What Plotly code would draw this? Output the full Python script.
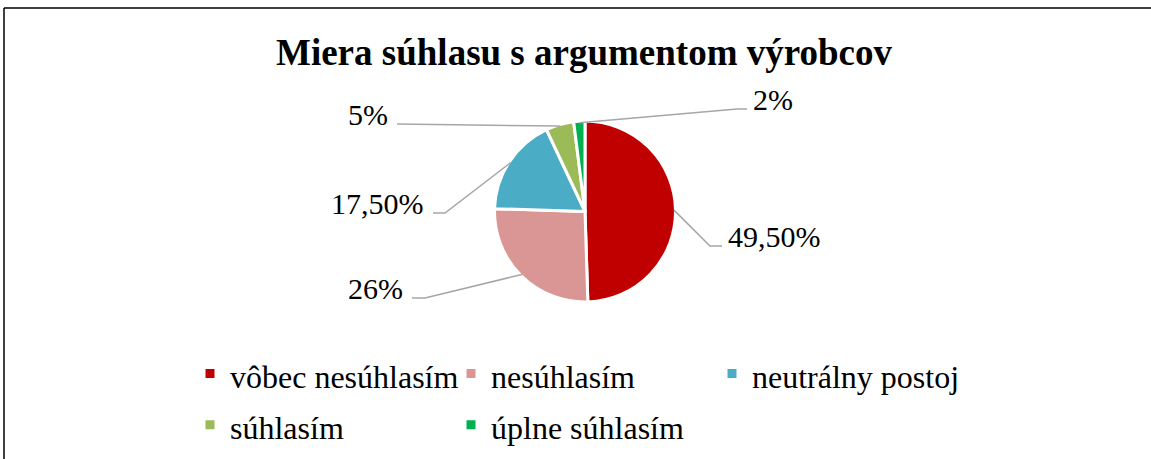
import math
import plotly.graph_objects as go

# ---- data ----
categories = ["vôbec nesúhlasím", "nesúhlasím", "neutrálny postoj", "súhlasím", "úplne súhlasím"]
values = [49.5, 26, 17.5, 5, 2]
value_labels = ["49,50%", "26%", "17,50%", "5%", "2%"]
title_text = "Miera súhlasu s argumentom výrobcov"

# ---- style / layout ----
colors = ["#C00000", "#D99694", "#4BACC6", "#9BBB59", "#00B050"]
W, H = 1151, 459
ML, MR = 100, 100                    # side margins (plot area width controls legend wrapping)
PW = W - ML - MR
CX, CY, R = 585, 211.5, 90.5         # pie centre / radius in px
FONT = "Liberation Serif, Times New Roman, serif"
LINE_COLOR = "#A6A6A6"

# label placement per slice: (elbow_x, elbow_y, end_x, side) in px
label_layout = [
    (710, 246, 722, "right"),
    (425, 298, 412, "left"),
    (445, 213, 433, "left"),
    (397, 124, 397, "left"),
    (737, 109, 747, "right"),
]


def px(x):
    return (x - ML) / PW


def py(y):
    return 1 - y / H


fig = go.Figure()
fig.add_trace(go.Pie(
    labels=[f"<span style='font-size:32px'>{c}</span>" for c in categories],
    values=values,
    sort=False,
    direction="clockwise",
    rotation=0,
    textinfo="none",
    hoverinfo="label+percent",
    marker=dict(colors=colors, line=dict(color="white", width=3)),
    domain=dict(x=[px(CX - R), px(CX + R)], y=[py(CY + R), py(CY - R)]),
))

total = sum(values)
cum = 0
shapes = []
annotations = []
for v, lab, (ex, ey, endx, side) in zip(values, value_labels, label_layout):
    mid = (cum + v / 2) / total * 2 * math.pi
    cum += v
    ax = CX + (R - 1.5) * math.sin(mid)
    ay = CY - (R - 1.5) * math.cos(mid)
    shapes.append(dict(
        type="path", xref="paper", yref="paper",
        path=f"M{px(ax)},{py(ay)} L{px(ex)},{py(ey)} L{px(endx)},{py(ey)}",
        line=dict(color=LINE_COLOR, width=1.5),
    ))
    if side == "right":
        tx, xa = endx + 4, "left"
    else:
        tx, xa = endx - 7, "right"
    annotations.append(dict(
        x=px(tx), y=py(ey - 10), xref="paper", yref="paper",
        text=lab, showarrow=False, xanchor=xa, yanchor="middle",
        font=dict(family=FONT, size=30, color="black"),
    ))

# chart border (top and left edges visible)
shapes.append(dict(type="line", xref="paper", yref="paper",
                   x0=px(4), y0=py(8), x1=px(1160), y1=py(8),
                   line=dict(color="black", width=1.5)))
shapes.append(dict(type="line", xref="paper", yref="paper",
                   x0=px(4), y0=py(8), x1=px(4), y1=py(470),
                   line=dict(color="black", width=1.5)))

fig.update_layout(
    width=W, height=H,
    margin=dict(l=ML, r=MR, t=0, b=0, autoexpand=False),
    paper_bgcolor="white", plot_bgcolor="white",
    title=dict(text=f"<b>{title_text}</b>", x=584 / W, xanchor="center", xref="container",
               y=1 - 52 / H, yanchor="middle", yref="container",
               font=dict(family=FONT, size=37, color="black")),
    showlegend=True,
    legend=dict(orientation="h", x=px(190), xanchor="left",
                y=py(343), yanchor="top", entrywidth=216,
                font=dict(family=FONT, size=37, color="black"),
                bgcolor="rgba(0,0,0,0)", traceorder="normal"),
    shapes=shapes,
    annotations=annotations,
)

fig.write_html("out.html", config={"displayModeBar": False},
               post_script="document.body.style.margin='0';")
